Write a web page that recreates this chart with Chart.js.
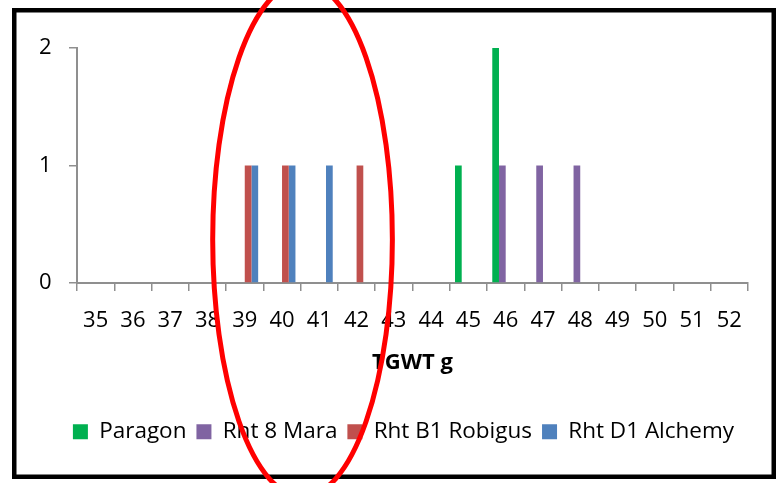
<!DOCTYPE html>
<html>
<head>
<meta charset="utf-8">
<script src="https://cdn.jsdelivr.net/npm/chart.js@4"></script>
<style>
  html, body { margin: 0; padding: 0; background: #ffffff; }
  #wrap { position: relative; width: 779px; height: 483px; }
</style>
</head>
<body>
<div id="wrap"><canvas id="c" width="779" height="483"></canvas></div>
<script>
// Thousand-grain weight classes (g)
const categories = ['35','36','37','38','39','40','41','42','43','44','45','46','47','48','49','50','51','52'];
const yTicks = [0, 1, 2];

// Number of lines falling in each TGWT class
const paragon  = [0,0,0,0,0,0,0,0,0,0,1,2,0,0,0,0,0,0];
const rht8Mara = [0,0,0,0,0,0,0,0,0,0,0,1,1,1,0,0,0,0];
const rhtB1Robigus = [0,0,0,0,1,1,0,1,0,0,0,0,0,0,0,0,0,0];
const rhtD1Alchemy = [0,0,0,0,1,1,1,0,0,0,0,0,0,0,0,0,0,0];

const seriesNames = ['Paragon', 'Rht 8 Mara', 'Rht B1 Robigus', 'Rht D1 Alchemy'];
const seriesColors = ['#00B050', '#8064A2', '#C0504D', '#4F81BD'];

// Highlight ring around the 39–42 g classes (category index / value units)
const ring = { cx: 5.55, cy: 0.37, rx: 2.41, ry: 2.19 };

const FONT = "'Open Sans', 'DejaVu Sans', sans-serif";
const AXIS = '#8f8f8f';

const framePlugin = {
  id: 'frame',
  beforeDraw(chart) {
    const ctx = chart.ctx;
    ctx.save();
    ctx.fillStyle = '#ffffff';
    ctx.fillRect(0, 0, chart.width, chart.height);
    ctx.restore();
  },
  afterDraw(chart) {
    const ctx = chart.ctx;
    ctx.save();
    ctx.strokeStyle = '#000000';
    ctx.lineWidth = 4.5;
    ctx.strokeRect(14.25, 10.25, 759.5, 466.5);
    // highlight ring
    const xs = chart.scales.x, ys = chart.scales.y;
    const step = xs.getPixelForValue(1) - xs.getPixelForValue(0);
    const cx = xs.getPixelForValue(0) + ring.cx * step;
    const cy = ys.getPixelForValue(ring.cy);
    const rx = ring.rx * step;
    const ry = Math.abs(ys.getPixelForValue(0) - ys.getPixelForValue(ring.ry));
    ctx.beginPath();
    ctx.ellipse(cx, cy, rx, ry, 0, 0, Math.PI * 2);
    ctx.strokeStyle = '#ff0000';
    ctx.lineWidth = 5;
    ctx.stroke();
    ctx.restore();
  }
};

const seriesData = [paragon, rht8Mara, rhtB1Robigus, rhtD1Alchemy];

new Chart(document.getElementById('c'), {
  type: 'bar',
  data: {
    labels: categories,
    datasets: seriesData.map((d, i) => ({
      label: seriesNames[i],
      data: d,
      backgroundColor: seriesColors[i],
      borderWidth: 0,
      categoryPercentage: 0.72,
      barPercentage: 1.0
    }))
  },
  options: {
    responsive: false,
    animation: false,
    layout: { padding: { left: 59, right: 31, top: 48, bottom: 30 } },
    plugins: {
      legend: {
        position: 'bottom',
        labels: {
          font: { family: FONT, size: 22.5 },
          color: '#000000',
          boxWidth: 15,
          boxHeight: 15,
          padding: 10
        }
      },
      tooltip: { enabled: false }
    },
    scales: {
      x: {
        afterFit(s) { s.height = 127.5; },
        grid: {
          display: true,
          drawOnChartArea: false,
          drawTicks: true,
          tickLength: 8,
          color: AXIS,
          lineWidth: 1.5,
          offset: true
        },
        border: { color: AXIS, width: 2 },
        ticks: {
          font: { family: FONT, size: 22 },
          color: '#000000',
          padding: 17,
          maxRotation: 0,
          autoSkip: false
        },
        title: {
          display: true,
          text: 'TGWT g',
          font: { family: FONT, size: 22, weight: 'bold' },
          color: '#000000',
          padding: { top: 0, bottom: 35 }
        }
      },
      y: {
        min: 0,
        max: 2,
        afterFit(s) { s.width = 18; },
        afterBuildTicks(s) { s.ticks = yTicks.map(v => ({ value: v })); },
        grid: {
          display: true,
          drawOnChartArea: false,
          drawTicks: true,
          tickLength: 8,
          color: AXIS,
          lineWidth: 1.5
        },
        border: { color: AXIS, width: 2 },
        ticks: {
          font: { family: FONT, size: 22 },
          color: '#000000',
          mirror: true,
          padding: -38
        }
      }
    }
  },
  plugins: [framePlugin]
});
</script>
</body>
</html>
